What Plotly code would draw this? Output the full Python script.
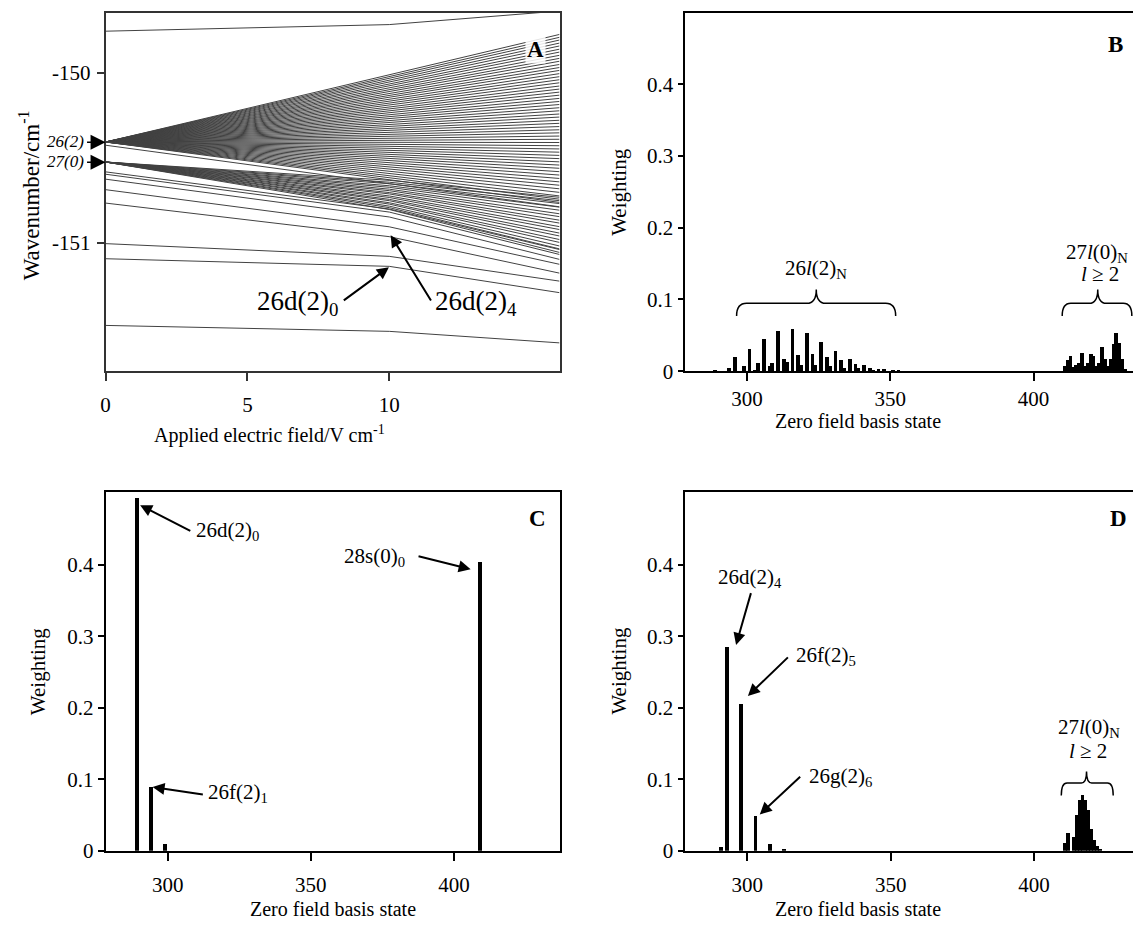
import plotly.graph_objects as go

W, H = 1133, 935
SERIF = "Liberation Serif"

# ---------------- Panel A: Stark map (wavenumber vs applied field) ----------------
field_ends = [0, 16]          # V/cm, straight fan lines
field_pts = [0, 10, 16]       # V/cm, levels with a bend at 10 V/cm

level_26_2 = -150.407         # zero-field position of the 26(2) manifold
level_27_0 = -150.525         # zero-field position of the 27(0) manifold

# wavenumber at 16 V/cm for each Stark component of the 26(2) manifold
fan_26_2_end = [-149.773, -149.790, -149.806, -149.824, -149.841, -149.860, -149.877,
                -149.896, -149.914, -149.931, -149.950, -149.968, -149.985, -150.004,
                -150.022, -150.040, -150.058, -150.077, -150.095, -150.113, -150.131,
                -150.150, -150.168, -150.186, -150.205, -150.223, -150.242, -150.260,
                -150.279, -150.297, -150.316, -150.335, -150.353, -150.372, -150.391,
                -150.410, -150.429, -150.448, -150.467, -150.486, -150.505, -150.524,
                -150.543, -150.562, -150.582, -150.602, -150.622, -150.642, -150.662,
                -150.683, -150.704, -150.725, -150.744, -150.763]

# 27(0) manifold components: wavenumber at 10 V/cm and at 16 V/cm
fan_27_0_mid = [-150.633, -150.644, -150.653, -150.665, -150.674, -150.685, -150.694,
                -150.705, -150.713, -150.725, -150.734, -150.745, -150.753, -150.765,
                -150.773, -150.785, -150.794, -150.805]
fan_27_0_end = [-150.733, -150.753, -150.770, -150.791, -150.809, -150.830, -150.847,
                -150.868, -150.885, -150.906, -150.923, -150.944, -150.961, -150.982,
                -150.999, -151.020, -151.037, -151.058]

# individual levels, wavenumber at 0, 10 and 16 V/cm
level_upper = [-149.754, -149.715, -149.635]
level_p = [-150.426, -150.651, -150.789]
level_a = [-150.583, -150.802, -151.041]
level_b = [-150.597, -150.820, -151.070]
level_c = [-150.626, -150.849, -151.099]
level_e = [-150.688, -150.907, -151.128]
level_d4 = [-150.767, -150.965, -151.180]
level_m = [-151.006, -151.081, -151.227]
level_d0 = [-151.095, -151.140, -151.295]
level_low = [-151.488, -151.523, -151.591]
single_levels = [level_upper, level_p, level_a, level_b, level_c, level_e,
                 level_d4, level_m, level_d0, level_low]

# ---------------- Panel B: basis-state weightings ----------------
b_state = [289, 294, 296, 299, 301, 303, 304, 306, 308, 309, 311, 313, 314, 316,
           318, 319, 321, 323, 324, 326, 328, 329, 331, 333, 334, 336, 338, 339,
           341, 343, 344, 346, 348, 351, 353,
           411, 412, 413, 414, 415, 416, 417, 418, 419, 420, 421, 422, 423, 424,
           425, 426, 427, 428, 429, 430, 431, 432]
b_weight = [0.001, 0.0055, 0.020, 0.008, 0.032, 0.002, 0.0115, 0.046, 0.008, 0.0125,
            0.0565, 0.017, 0.014, 0.060, 0.023, 0.009, 0.054, 0.025, 0.009, 0.042,
            0.021, 0.008, 0.029, 0.016, 0.0046, 0.017, 0.010, 0.0046, 0.0087, 0.0055,
            0.0023, 0.0037, 0.0032, 0.0018, 0.0014,
            0.008, 0.016, 0.022, 0.006, 0.009, 0.012, 0.026, 0.008, 0.012, 0.024,
            0.022, 0.008, 0.012, 0.034, 0.018, 0.008, 0.018, 0.038, 0.054, 0.040,
            0.017, 0.004]

# ---------------- Panel C ----------------
c_state = [289, 294, 299, 409]
c_weight = [0.493, 0.089, 0.009, 0.404]

# ---------------- Panel D ----------------
d_state = [291, 293, 298, 303, 308, 313,
           411, 412, 414, 415, 416, 417, 418, 419, 420, 421, 422, 423]
d_weight = [0.0046, 0.2845, 0.205, 0.0484, 0.010, 0.002,
            0.0106, 0.0245, 0.019, 0.050, 0.0706, 0.0775, 0.0706, 0.0567,
            0.031, 0.015, 0.006, 0.002]

weight_ticks = [0, 0.1, 0.2, 0.3, 0.4]
weight_ticktext = ["0", "0.1", "0.2", "0.3", "0.4"]
state_ticks = [300, 350, 400]
field_ticks = [0, 5, 10]
wavenumber_ticks = [-150, -151]
wavenumber_ticktext = ["-150", "-151"]

LINE_GREY = "#424242"

fig = go.Figure()


def line_trace(xs, ys):
    return go.Scatter(x=xs, y=ys, mode="lines", line=dict(color=LINE_GREY, width=1),
                      hoverinfo="skip", showlegend=False, xaxis="x", yaxis="y")


# 26(2) manifold: straight Stark lines
fx, fy = [], []
for e in fan_26_2_end:
    fx += field_ends + [None]
    fy += [level_26_2, e, None]
fig.add_trace(line_trace(fx, fy))

# 27(0) manifold: bend at 10 V/cm
gx, gy = [], []
for m, e in zip(fan_27_0_mid, fan_27_0_end):
    gx += field_pts + [None]
    gy += [level_27_0, m, e, None]
fig.add_trace(line_trace(gx, gy))

sx, sy = [], []
for lv in single_levels:
    sx += field_pts + [None]
    sy += lv + [None]
fig.add_trace(line_trace(sx, sy))

bar_style = dict(marker=dict(color="black", line=dict(width=0)), showlegend=False)
fig.add_trace(go.Bar(x=b_state, y=b_weight, width=1.35, xaxis="x2", yaxis="y2", **bar_style))
fig.add_trace(go.Bar(x=c_state, y=c_weight, width=1.45, xaxis="x3", yaxis="y3", **bar_style))
fig.add_trace(go.Bar(x=d_state, y=d_weight, width=1.3, xaxis="x4", yaxis="y4", **bar_style))

tickfont = dict(family=SERIF, size=21, color="black")


def axis(domain, rng, tickvals, ticktext=None, color="black", mirror=True, ticklen=8,
         standoff=2):
    d = dict(domain=domain, range=rng, showgrid=False, zeroline=False, showline=True,
             linecolor=color, linewidth=1.5, mirror=mirror, ticks="outside",
             ticklen=ticklen, tickwidth=1.5, tickcolor=color, tickvals=tickvals,
             tickfont=tickfont, fixedrange=True, ticklabelstandoff=standoff)
    if ticktext is not None:
        d["ticktext"] = ticktext
    return d


def dx(p):
    return p / W


def dy(p):
    return 1 - p / H


top_row = [dy(376), dy(12.7)]
bot_row = [dy(861.7), dy(498.3)]
left_col = [dx(101), dx(557)]
right_col = [dx(683.3), 1.0]

fig.update_layout(
    width=W, height=H, margin=dict(l=0, r=0, t=0, b=0),
    font=dict(family=SERIF, color="black"),
    paper_bgcolor="white", plot_bgcolor="white", bargap=0,
    xaxis=axis(left_col, [0, 16], field_ticks, color="#333333", ticklen=8, standoff=6),
    yaxis=dict(axis([dy(375.7), dy(12.7)], [-151.756, -149.644], wavenumber_ticks,
                    wavenumber_ticktext, color="#333333", ticklen=7), anchor="x"),
    xaxis2=dict(axis(right_col, [278.5, 434.7], state_ticks, ticklen=8, standoff=0),
                anchor="y2"),
    yaxis2=dict(axis(top_row, [0, 0.5], weight_ticks, weight_ticktext, mirror=False,
                     ticklen=6, standoff=0), anchor="x2"),
    xaxis3=dict(axis(left_col, [278.3, 436.9], state_ticks, ticklen=9, standoff=5),
                anchor="y3"),
    yaxis3=dict(axis(bot_row, [0, 0.502], weight_ticks, weight_ticktext, ticklen=6,
                     standoff=0), anchor="x3"),
    xaxis4=dict(axis(right_col, [278.4, 434.5], state_ticks, ticklen=9, standoff=5),
                anchor="y4"),
    yaxis4=dict(axis(bot_row, [0, 0.502], weight_ticks, weight_ticktext, mirror=False,
                     ticklen=6, standoff=0), anchor="x4"),
)

ann = []


def text(x, y, s, size=21, angle=0, bold=False, italic=False, bg=None):
    f = dict(family=SERIF, size=size, color="black")
    if bold:
        s = "<b>" + s + "</b>"
    if italic:
        s = "<i>" + s + "</i>"
    a = dict(x=dx(x), y=dy(y), xref="paper", yref="paper", text=s, showarrow=False,
             font=f, xanchor="center", yanchor="middle", textangle=angle)
    if bg:
        a["bgcolor"] = bg
    ann.append(a)


def arrow(tail, head, width=2, size=1.2):
    ann.append(dict(x=dx(head[0]), y=dy(head[1]), xref="paper", yref="paper",
                    ax=tail[0] - head[0], ay=tail[1] - head[1], axref="pixel", ayref="pixel",
                    text="", showarrow=True, arrowhead=2, arrowsize=size,
                    arrowwidth=width, arrowcolor="black"))


# axis titles
text(25, 198, "Wavenumber/cm<sup>-1</sup>", size=23, angle=-90)
text(266, 440, "Applied electric field/V cm<sup>-1</sup>", size=20)
text(617, 195, "Weighting", size=21, angle=-90)
text(857, 426, "Zero field basis state", size=20)
text(33, 680, "Weighting", size=21, angle=-90)
text(329, 921, "Zero field basis state", size=20)
text(617, 680, "Weighting", size=21, angle=-90)
text(857, 921, "Zero field basis state", size=20)

# panel letters
text(533, 50, "A", size=23, bold=True, bg="rgba(255,255,255,0.85)")
text(1115, 45, "B", size=23, bold=True)
text(535, 525, "C", size=23, bold=True)
text(1118, 525, "D", size=23, bold=True)

# panel A labels
for lab, yy in (("<i>26(2)</i>", 143.5), ("<i>27(0)</i>", 164)):
    ann.append(dict(x=dx(81), y=dy(yy), xref="paper", yref="paper", text=lab,
                    showarrow=False, xanchor="right", yanchor="middle",
                    font=dict(family=SERIF, size=17, color="black")))
arrow((81, 144), (101, 144), width=1.5, size=2.0)
arrow((81, 164.3), (101, 164.3), width=1.5, size=2.0)
text(294, 307, "26d(2)<sub>0</sub>", size=27)
text(473, 307, "26d(2)<sub>4</sub>", size=27)
arrow((339, 305), (385.6, 270.7))
arrow((428.6, 305), (387.4, 238.3))

# panel B labels
text(815, 273, "26<i>l</i>(2)<sub>N</sub>", size=21)
text(1097, 256, "27<i>l</i>(0)<sub>N</sub>", size=21)
text(1100, 278, "<i>l</i> ≥ 2", size=21)

# panel C labels
text(223, 538, "26d(2)<sub>0</sub>", size=21)
text(234, 803, "26f(2)<sub>1</sub>", size=21)
text(371, 564, "28s(0)<sub>0</sub>", size=21)
arrow((187.4, 538.3), (135.7, 511.7))
arrow((200, 805), (148.2, 797.3))
arrow((414.1, 563.3), (467.7, 576.7))

# panel D labels
text(748, 586, "26d(2)<sub>4</sub>", size=21)
text(825, 665, "26f(2)<sub>5</sub>", size=21)
text(839, 787, "26g(2)<sub>6</sub>", size=21)
text(1089, 737, "27<i>l</i>(0)<sub>N</sub>", size=21)
text(1088, 761, "<i>l</i> ≥ 2", size=21)
arrow((749.6, 600), (734.3, 653.3))
arrow((787.7, 665), (746.2, 705))
arrow((800, 786), (758.1, 825))

fig.update_layout(annotations=ann)


def brace(xref, yref, x0, x1, xm, y_end, y_h, y_tip, c, ct):
    p = (f"M {x0},{y_end} Q {x0},{y_h} {x0 + c},{y_h} L {xm - ct},{y_h} "
         f"Q {xm},{y_h} {xm},{y_tip} Q {xm},{y_h} {xm + ct},{y_h} "
         f"L {x1 - c},{y_h} Q {x1},{y_h} {x1},{y_end}")
    return dict(type="path", path=p, xref=xref, yref=yref,
                line=dict(color="black", width=1.5))


fig.update_layout(shapes=[
    brace("x2", "y2", 296.4, 351.9, 324.2, 0.077, 0.0946, 0.114, 3.5, 3.3),
    brace("x2", "y2", 410.0, 434.3, 422.4, 0.077, 0.0946, 0.114, 3.0, 3.0),
    brace("x4", "y4", 409.5, 427.6, 418.3, 0.077, 0.0946, 0.1106, 2.0, 1.8),
])

fig.write_html("out.html")
